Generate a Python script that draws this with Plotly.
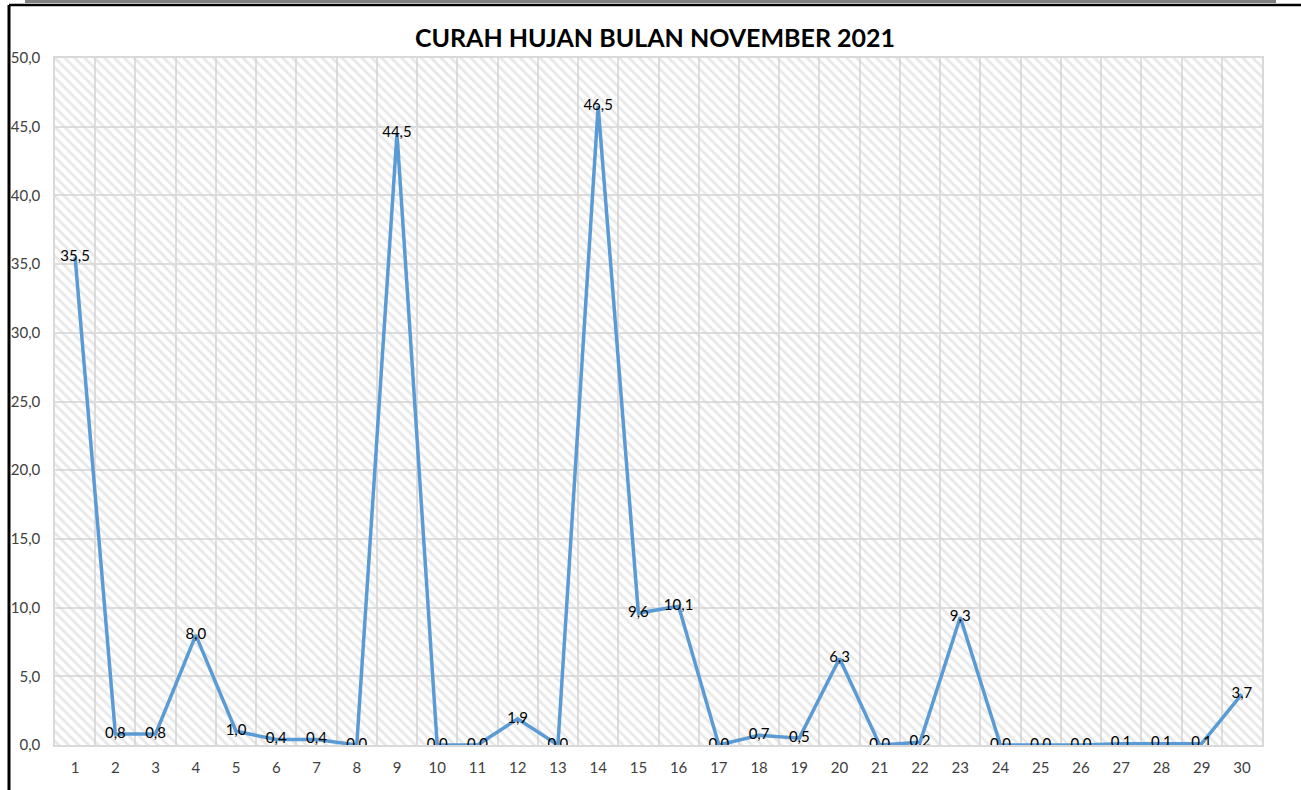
import plotly.graph_objects as go

days = list(range(1, 31))
rain = [35.5, 0.8, 0.8, 8.0, 1.0, 0.4, 0.4, 0.0, 44.5, 0.0,
        0.0, 1.9, 0.0, 46.5, 9.6, 10.1, 0.0, 0.7, 0.5, 6.3,
        0.0, 0.2, 9.3, 0.0, 0.0, 0.0, 0.1, 0.1, 0.1, 3.7]
y_ticks = [0, 5, 10, 15, 20, 25, 30, 35, 40, 45, 50]
title = "CURAH HUJAN BULAN NOVEMBER 2021"

x_lo, x_hi = days[0] - 0.5, days[-1] + 0.5
y_lo, y_hi = y_ticks[0], y_ticks[-1]
boundaries = [d - 0.5 for d in days] + [days[-1] + 0.5]

FONT = "Lato, Calibri, sans-serif"
W, H = 1301, 790
ML, MR, MT, MB = 55, 39, 58, 45
PW, PH = W - ML - MR, H - MT - MB

fig = go.Figure()

# hatched plot-area background
fig.add_trace(go.Scatter(
    x=[x_lo, x_hi, x_hi, x_lo, x_lo],
    y=[y_lo, y_lo, y_hi, y_hi, y_lo],
    mode="lines", line=dict(width=0),
    fill="toself", fillcolor="rgba(0,0,0,0)",
    fillpattern=dict(shape="\\", fgcolor="#d2d2d2", bgcolor="rgba(0,0,0,0)",
                     size=7, solidity=0.4),
    hoverinfo="skip", showlegend=False,
))

fig.add_trace(go.Scatter(
    x=days, y=rain, mode="lines+text",
    line=dict(color="#5B9BD5", width=3.5),
    text=rain, texttemplate="%{y:.1f}", textposition="middle center",
    textfont=dict(family=FONT, size=15, color="#000000"),
    showlegend=False,
))

fig.update_layout(
    width=W, height=H,
    margin=dict(l=ML, r=MR, t=MT, b=MB),
    paper_bgcolor="white", plot_bgcolor="white",
    separators=",.",
    title=dict(text="<b>" + title + "</b>", x=655 / W, xref="container", xanchor="center",
               y=1 - 38 / H, yref="container", yanchor="middle",
               font=dict(family=FONT, size=25, color="#000000")),
    xaxis=dict(range=[x_lo, x_hi], tickvals=days, ticktext=[str(d) for d in days],
               showgrid=False, zeroline=False, showline=True, linecolor="#d9d9d9",
               linewidth=1.5, mirror=True, ticks="", ticklabelstandoff=8,
               tickfont=dict(family=FONT, size=15, color="#404040"),
               minor=dict(tickvals=boundaries, showgrid=True, gridcolor="#dedede", gridwidth=1.5)),
    yaxis=dict(range=[y_lo, y_hi], tickvals=y_ticks, tickformat=".1f",
               showgrid=True, gridcolor="#dedede", gridwidth=1.5, zeroline=False,
               showline=True, linecolor="#d9d9d9", linewidth=1.5, mirror=True, ticks="",
               ticklabelstandoff=10,
               tickfont=dict(family=FONT, size=15, color="#404040")),
)

# screenshot frame: left black border, top lines
fig.add_shape(type="line", xref="paper", yref="paper", x0=-46 / PW, x1=-46 / PW,
              y0=-60 / PH, y1=1 + 53 / PH, line=dict(color="black", width=3))
fig.add_shape(type="line", xref="paper", yref="paper", x0=-46 / PW, x1=1 + 50 / PW,
              y0=1 + 53 / PH, y1=1 + 53 / PH, line=dict(color="black", width=2.5))
fig.add_shape(type="rect", xref="paper", yref="paper", x0=-30 / PW, x1=1 + 14 / PW,
              y0=1 + 55 / PH, y1=1 + 60 / PH, line=dict(width=0), fillcolor="#808080")

fig.write_html("out.html", config={"displayModeBar": False},
               post_script="document.body.style.margin='0';")
